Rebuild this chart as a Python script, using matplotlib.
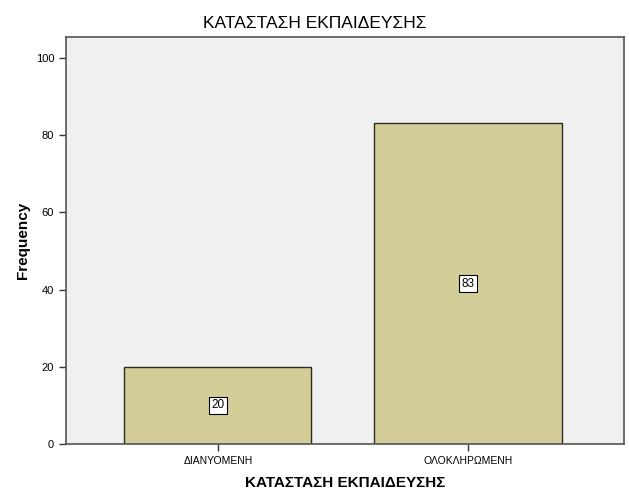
import matplotlib.pyplot as plt

# --- data ---
categories = ['ΔΙΑΝΥΟΜΕΝΗ', 'ΟΛΟΚΛΗΡΩΜΕΝΗ']
frequencies = [20, 83]
y_ticks = [0, 20, 40, 60, 80, 100]

plt.rcParams['font.family'] = ['Liberation Sans', 'DejaVu Sans']

W, H = 629, 504
fig = plt.figure(figsize=(W / 100, H / 100), dpi=100)
# axes box in pixel coords: x 66..624, y 37..444
ax = fig.add_axes([66 / W, 1 - 444 / H, (624 - 66) / W, (444 - 37) / H])
ax.set_facecolor('#f0f0f0')

pos = list(range(len(categories)))
ax.bar(pos, frequencies, width=0.748, color='#d3ce98', edgecolor='#2b2b20', linewidth=1.0, zorder=2)

# value labels in white boxes at mid-height
for x, v in zip(pos, frequencies):
    ax.text(x, v / 2, str(v), ha='center', va='center', fontsize=8.5, zorder=3,
            bbox=dict(boxstyle='square,pad=0.2', facecolor='white', edgecolor='black', linewidth=0.8))

ax.set_xlim(-0.608, 1.624)
ax.set_ylim(0, 105.4)
ax.set_xticks(pos)
ax.set_xticklabels(categories, fontsize=7.5)
ax.set_yticks(y_ticks)
ax.set_yticklabels([str(t) for t in y_ticks], fontsize=8)
ax.tick_params(axis='both', direction='out', length=5, width=1, color='#333333')

for side in ['left', 'bottom', 'top', 'right']:
    ax.spines[side].set_color('#555555')
    ax.spines[side].set_linewidth(1.2)

ax.set_ylabel('Frequency', fontsize=11, fontweight='bold', labelpad=4)
ax.set_xlabel('ΚΑΤΑΣΤΑΣΗ ΕΚΠΑΙΔΕΥΣΗΣ', fontsize=11, fontweight='bold', labelpad=7)
fig.text(315 / W, 1 - 24 / H, 'ΚΑΤΑΣΤΑΣΗ ΕΚΠΑΙΔΕΥΣΗΣ', ha='center', va='center', fontsize=12.5)

fig.savefig('out.png', dpi=100, facecolor='white')
